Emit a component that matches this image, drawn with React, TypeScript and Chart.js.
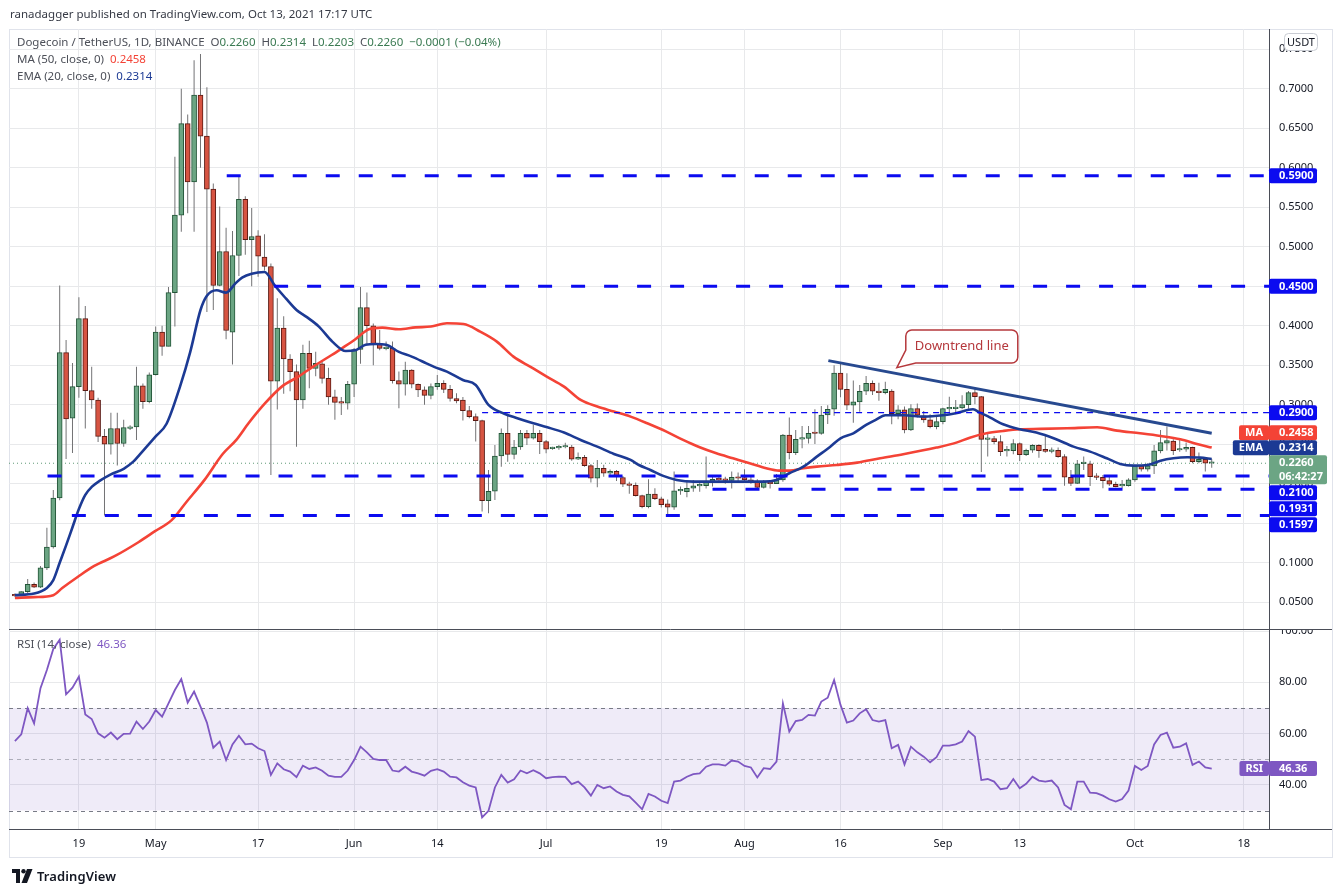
import React, { useEffect, useRef } from "react";
import { Chart, registerables } from "chart.js";

Chart.register(...registerables);

const FONT = '"Noto Sans", "DejaVu Sans", sans-serif';

// Daily DOGE/USDT candles, day 1 = Apr 9 2021 ... day 188 = Oct 13 2021
const opens = [
  0.0600, 0.0590, 0.0634, 0.0727, 0.0690, 0.0935, 0.1200, 0.1820, 0.3660, 0.2830,
  0.3230, 0.4090, 0.3180, 0.3060, 0.2600, 0.2500, 0.2700, 0.2510, 0.2700, 0.2720,
  0.3240, 0.3040, 0.3380, 0.3920, 0.3740, 0.4420, 0.5400, 0.6560, 0.5820, 0.6920,
  0.6400, 0.5730, 0.4510, 0.4940, 0.3920, 0.4890, 0.5600, 0.5090, 0.5140, 0.4870,
  0.4750, 0.3300, 0.3970, 0.3580, 0.3420, 0.3060, 0.3650, 0.3460, 0.3520, 0.3335,
  0.3100, 0.3030, 0.3020, 0.3260, 0.3700, 0.4230, 0.4000, 0.3766, 0.3710, 0.3715,
  0.3306, 0.3260, 0.3440, 0.3260, 0.3188, 0.3120, 0.3230, 0.3270, 0.3196, 0.3080,
  0.3060, 0.2926, 0.2850, 0.2800, 0.1787, 0.1905, 0.2352, 0.2640, 0.2373, 0.2466,
  0.2640, 0.2576, 0.2640, 0.2534, 0.2446, 0.2455, 0.2466, 0.2466, 0.2310, 0.2335,
  0.2230, 0.2070, 0.2196, 0.2133, 0.2158, 0.2080, 0.1994, 0.1980, 0.1850, 0.1710,
  0.1870, 0.1810, 0.1745, 0.1703, 0.1910, 0.1900, 0.1943, 0.1973, 0.1977, 0.2027,
  0.2057, 0.2057, 0.2044, 0.2087, 0.2078, 0.2050, 0.2032, 0.1955, 0.2019, 0.2002,
  0.2049, 0.2618, 0.2394, 0.2566, 0.2575, 0.2642, 0.2639, 0.2871, 0.2943, 0.3400,
  0.3196, 0.2994, 0.3036, 0.3171, 0.3272, 0.3171, 0.3154, 0.3175, 0.2888, 0.2935,
  0.2681, 0.2951, 0.2859, 0.2808, 0.2724, 0.2787, 0.2948, 0.2951, 0.2960, 0.3002,
  0.3154, 0.3103, 0.2563, 0.2572, 0.2534, 0.2416, 0.2420, 0.2508, 0.2369, 0.2424,
  0.2487, 0.2437, 0.2411, 0.2424, 0.2344, 0.2082, 0.2006, 0.2255, 0.2251, 0.2091,
  0.2082, 0.2040, 0.1994, 0.1973, 0.1977, 0.2049, 0.2226, 0.2184, 0.2226, 0.2416,
  0.2513, 0.2542, 0.2428, 0.2437, 0.2462, 0.2281, 0.2310, 0.2260,
];
const highs = [
  0.0612, 0.0640, 0.0796, 0.0750, 0.0958, 0.1444, 0.1920, 0.4510, 0.3820, 0.3530,
  0.4360, 0.4250, 0.3480, 0.3090, 0.2694, 0.2900, 0.2900, 0.2810, 0.2740, 0.3480,
  0.3270, 0.3410, 0.3990, 0.4000, 0.4490, 0.6140, 0.7000, 0.6676, 0.7360, 0.7440,
  0.7020, 0.5800, 0.5510, 0.5240, 0.5200, 0.5900, 0.5640, 0.5490, 0.5210, 0.5160,
  0.4790, 0.4350, 0.4120, 0.3640, 0.3510, 0.3760, 0.3810, 0.3670, 0.3560, 0.3470,
  0.3190, 0.3100, 0.3300, 0.3720, 0.4490, 0.4420, 0.4030, 0.3947, 0.3800, 0.3800,
  0.3420, 0.3546, 0.3450, 0.3270, 0.3230, 0.3270, 0.3378, 0.3310, 0.3250, 0.3146,
  0.3100, 0.2985, 0.2890, 0.2810, 0.2175, 0.2490, 0.2700, 0.2890, 0.2555, 0.2680,
  0.2680, 0.2745, 0.2680, 0.2555, 0.2470, 0.2490, 0.2520, 0.2490, 0.2395, 0.2365,
  0.2250, 0.2300, 0.2240, 0.2180, 0.2175, 0.2100, 0.2027, 0.2015, 0.1860, 0.2057,
  0.1943, 0.1837, 0.1800, 0.2154, 0.1964, 0.2049, 0.2049, 0.2027, 0.2344, 0.2112,
  0.2100, 0.2090, 0.2154, 0.2142, 0.2184, 0.2100, 0.2057, 0.2049, 0.2049, 0.2125,
  0.2630, 0.2840, 0.2680, 0.2730, 0.2730, 0.2943, 0.2985, 0.2994, 0.3500, 0.3517,
  0.3400, 0.3306, 0.3251, 0.3365, 0.3306, 0.3280, 0.3293, 0.3196, 0.2994, 0.2977,
  0.3006, 0.3015, 0.2922, 0.2880, 0.2859, 0.2964, 0.3103, 0.3061, 0.3120, 0.3175,
  0.3217, 0.3112, 0.2648, 0.2605, 0.2614, 0.2479, 0.2563, 0.2521, 0.2445, 0.2500,
  0.2500, 0.2614, 0.2458, 0.2458, 0.2373, 0.2175, 0.2302, 0.2344, 0.2293, 0.2133,
  0.2112, 0.2091, 0.2027, 0.2049, 0.2070, 0.2238, 0.2238, 0.2260, 0.2492, 0.2681,
  0.2724, 0.2563, 0.2555, 0.2521, 0.2470, 0.2395, 0.2335, 0.2314,
];
const lows = [
  0.0570, 0.0580, 0.0615, 0.0680, 0.0680, 0.0910, 0.1180, 0.1790, 0.2315, 0.2390,
  0.3090, 0.2700, 0.2950, 0.2530, 0.1600, 0.2370, 0.2230, 0.2470, 0.2680, 0.2555,
  0.2950, 0.3020, 0.3370, 0.3620, 0.3740, 0.3990, 0.5190, 0.5426, 0.5190, 0.6000,
  0.4176, 0.4200, 0.4500, 0.3830, 0.3510, 0.4630, 0.4900, 0.4500, 0.4620, 0.4700,
  0.2110, 0.2940, 0.3140, 0.3170, 0.2470, 0.2950, 0.3210, 0.3360, 0.3270, 0.3000,
  0.2810, 0.2870, 0.2940, 0.3100, 0.3520, 0.3770, 0.3500, 0.3690, 0.3690, 0.3270,
  0.2956, 0.3116, 0.3210, 0.3100, 0.3000, 0.3070, 0.3190, 0.3150, 0.3040, 0.3020,
  0.2800, 0.2830, 0.2534, 0.1648, 0.1627, 0.1795, 0.2217, 0.2280, 0.2310, 0.2430,
  0.2490, 0.2560, 0.2377, 0.2386, 0.2430, 0.2430, 0.2450, 0.2293, 0.2300, 0.2217,
  0.2015, 0.1956, 0.2090, 0.2110, 0.2036, 0.1960, 0.1875, 0.1840, 0.1690, 0.1690,
  0.1795, 0.1700, 0.1590, 0.1670, 0.1860, 0.1830, 0.1900, 0.1900, 0.1940, 0.1964,
  0.2015, 0.2000, 0.1940, 0.2027, 0.2027, 0.2000, 0.1920, 0.1940, 0.1940, 0.1998,
  0.2027, 0.2310, 0.2365, 0.2450, 0.2510, 0.2504, 0.2620, 0.2757, 0.2860, 0.3095,
  0.2935, 0.2774, 0.2913, 0.3124, 0.3124, 0.3050, 0.3133, 0.2753, 0.2816, 0.2639,
  0.2669, 0.2838, 0.2774, 0.2703, 0.2690, 0.2753, 0.2900, 0.2880, 0.2943, 0.2951,
  0.3006, 0.2150, 0.2344, 0.2500, 0.2352, 0.2344, 0.2373, 0.2289, 0.2352, 0.2394,
  0.2331, 0.2394, 0.2386, 0.2331, 0.1975, 0.1973, 0.1998, 0.2175, 0.1973, 0.2049,
  0.1943, 0.1973, 0.1956, 0.1943, 0.1964, 0.2027, 0.2154, 0.2154, 0.2124, 0.2386,
  0.2420, 0.2365, 0.2407, 0.2407, 0.2260, 0.2260, 0.2154, 0.2203,
];
const closes = [
  0.0580, 0.0634, 0.0727, 0.0690, 0.0935, 0.1200, 0.1820, 0.3660, 0.2820, 0.3230,
  0.4090, 0.3180, 0.3060, 0.2600, 0.2500, 0.2700, 0.2510, 0.2710, 0.2720, 0.3240,
  0.3040, 0.3380, 0.3920, 0.3740, 0.4420, 0.5400, 0.6560, 0.5820, 0.6920, 0.6400,
  0.5730, 0.4510, 0.4940, 0.3940, 0.4890, 0.5600, 0.5090, 0.5130, 0.4880, 0.4750,
  0.3300, 0.3970, 0.3580, 0.3420, 0.3060, 0.3650, 0.3460, 0.3525, 0.3335, 0.3100,
  0.3030, 0.3020, 0.3260, 0.3700, 0.4230, 0.4000, 0.3766, 0.3715, 0.3720, 0.3306,
  0.3260, 0.3440, 0.3260, 0.3188, 0.3120, 0.3230, 0.3270, 0.3196, 0.3080, 0.3050,
  0.2926, 0.2850, 0.2800, 0.1787, 0.1905, 0.2352, 0.2640, 0.2373, 0.2466, 0.2640,
  0.2576, 0.2640, 0.2534, 0.2437, 0.2459, 0.2468, 0.2470, 0.2310, 0.2335, 0.2230,
  0.2070, 0.2196, 0.2133, 0.2158, 0.2090, 0.1994, 0.1980, 0.1850, 0.1710, 0.1870,
  0.1810, 0.1736, 0.1703, 0.1910, 0.1915, 0.1943, 0.1973, 0.1985, 0.2027, 0.2057,
  0.2049, 0.2044, 0.2082, 0.2070, 0.2050, 0.2027, 0.1955, 0.2019, 0.2002, 0.2049,
  0.2618, 0.2394, 0.2563, 0.2580, 0.2639, 0.2636, 0.2871, 0.2943, 0.3400, 0.3196,
  0.2994, 0.3036, 0.3171, 0.3272, 0.3171, 0.3154, 0.3196, 0.2888, 0.2935, 0.2681,
  0.2951, 0.2867, 0.2808, 0.2724, 0.2787, 0.2951, 0.2960, 0.2964, 0.3002, 0.3154,
  0.3103, 0.2563, 0.2572, 0.2534, 0.2407, 0.2428, 0.2508, 0.2369, 0.2424, 0.2487,
  0.2420, 0.2411, 0.2424, 0.2344, 0.2085, 0.2006, 0.2251, 0.2260, 0.2091, 0.2082,
  0.2040, 0.1994, 0.1964, 0.1977, 0.2049, 0.2226, 0.2184, 0.2226, 0.2416, 0.2521,
  0.2546, 0.2420, 0.2437, 0.2462, 0.2281, 0.2310, 0.2261, 0.2260,
];

// RSI(14) per day
const rsiValues = [
  57.1, 59.7, 69.9, 64.0, 77.7, 84.8, 93.0, 96.6, 75.3, 77.9,
  82.2, 67.5, 65.7, 60.1, 58.4, 60.4, 57.8, 59.9, 60.0, 64.7,
  61.8, 64.7, 69.2, 66.6, 71.8, 77.0, 81.3, 72.1, 76.4, 70.5,
  64.3, 54.5, 56.9, 49.7, 55.8, 59.2, 55.8, 56.1, 54.3, 53.2,
  43.9, 48.4, 46.1, 45.2, 43.0, 47.5, 46.2, 46.8, 45.5, 43.6,
  43.1, 43.1, 45.6, 49.7, 54.9, 52.7, 50.1, 49.7, 49.7, 45.6,
  45.2, 47.1, 45.2, 44.5, 43.6, 45.5, 46.1, 45.2, 43.2, 42.9,
  41.0, 39.7, 39.0, 27.3, 29.9, 39.0, 43.9, 40.9, 42.2, 45.6,
  44.5, 45.7, 44.5, 42.6, 43.0, 43.2, 43.1, 40.3, 41.3, 39.0,
  35.8, 40.0, 38.7, 39.4, 37.4, 36.1, 35.5, 33.1, 30.5, 36.5,
  35.5, 33.8, 32.9, 41.3, 41.7, 43.2, 44.2, 44.5, 47.1, 48.0,
  48.0, 47.5, 49.5, 49.1, 47.4, 46.8, 42.9, 46.5, 46.2, 49.1,
  71.8, 60.8, 64.9, 65.3, 67.3, 67.0, 72.5, 74.0, 80.9, 71.2,
  64.3, 65.1, 67.9, 69.5, 65.3, 64.7, 65.3, 54.3, 55.6, 48.0,
  54.9, 52.7, 51.0, 48.8, 50.8, 55.3, 55.3, 55.8, 56.9, 61.0,
  58.8, 41.9, 42.3, 41.3, 38.3, 38.7, 42.3, 38.7, 40.4, 43.2,
  41.7, 41.3, 41.7, 39.0, 32.2, 30.5, 41.3, 41.3, 37.0, 36.8,
  35.8, 34.4, 33.5, 34.5, 37.8, 47.4, 45.8, 47.4, 55.8, 59.5,
  60.4, 54.5, 54.9, 56.2, 47.8, 49.1, 46.8, 46.36,
];

// EMA(20): [day, value]
const emaPoints = [
  [1, 0.059], [4, 0.061], [6, 0.068], [7, 0.078], [8, 0.1], [9, 0.122], [10, 0.145],
  [11, 0.168], [12, 0.186], [13, 0.196], [14.3, 0.204], [16, 0.212], [18, 0.219],
  [19.5, 0.228], [20.5, 0.237], [23, 0.26], [24.7, 0.276], [26.8, 0.323], [28.4, 0.367],
  [30, 0.42], [31, 0.438], [32.5, 0.445], [34, 0.442], [35.5, 0.454], [36.5, 0.461],
  [38, 0.466], [40, 0.468], [41.7, 0.45], [43.3, 0.435], [45, 0.42], [46.5, 0.4116],
  [48.5, 0.399], [50.6, 0.38], [52.7, 0.368], [54.2, 0.369], [55.8, 0.376], [57.4, 0.377],
  [59, 0.376], [61, 0.367], [63, 0.361], [65.3, 0.3525], [66.5, 0.348], [68.5, 0.342],
  [71, 0.3314], [73, 0.325], [75, 0.2998], [77.4, 0.289], [79.5, 0.283], [82, 0.2766],
  [84.2, 0.2715], [86.8, 0.2648], [89.4, 0.2555], [92, 0.247], [94.6, 0.2378],
  [97.2, 0.2302], [98.5, 0.2238], [100.3, 0.2175], [102.3, 0.21], [104.4, 0.2049],
  [107, 0.2027], [110.6, 0.2027], [114.8, 0.2027], [118, 0.2027], [120, 0.2049],
  [122, 0.2133], [124.2, 0.2217], [126.3, 0.2344], [128.4, 0.247], [130, 0.2576],
  [132, 0.2639], [134, 0.2745], [135.5, 0.281], [137, 0.2867], [140, 0.2867], [143, 0.285],
  [146, 0.2867], [148, 0.2892], [150.7, 0.2943], [151.8, 0.29], [153.4, 0.2838],
  [155.4, 0.2753], [158, 0.269], [160.6, 0.2648], [163.5, 0.257], [166.4, 0.247],
  [169, 0.2407], [171.6, 0.2323], [173.7, 0.2251], [175.8, 0.223], [178, 0.2238],
  [180, 0.2293], [182, 0.2323], [184.2, 0.2335], [186.2, 0.2331], [188, 0.2314],
];

// MA(50): [day, value]
const maPoints = [
  [1, 0.0556], [4, 0.0565], [7, 0.059], [8.4, 0.068], [10.8, 0.082], [13.4, 0.096],
  [16.5, 0.108], [20.3, 0.126], [22.9, 0.14], [25.5, 0.154], [27.8, 0.177], [30.6, 0.2046],
  [33.5, 0.238], [35.6, 0.2556], [37.5, 0.2766], [40.1, 0.302], [42.7, 0.323], [45.3, 0.3357],
  [47.9, 0.35], [50.5, 0.363], [52.1, 0.3715], [54.2, 0.383], [56.3, 0.3956], [58.4, 0.3977],
  [61, 0.3956], [63.6, 0.398], [66, 0.399], [68.5, 0.4032], [71.1, 0.4023], [73.7, 0.3926],
  [76.3, 0.38], [78.9, 0.361], [81.5, 0.3483], [84.1, 0.3357], [86.8, 0.323], [89.4, 0.3061],
  [92, 0.2977], [94.6, 0.2914], [97.2, 0.285], [99.8, 0.2766], [102.8, 0.266], [105.4, 0.2555],
  [108, 0.2462], [110.6, 0.2386], [113.2, 0.2323], [115.8, 0.226], [118.4, 0.2196],
  [120.4, 0.2167], [122.1, 0.2167], [124.2, 0.2196], [126.3, 0.2217], [129.4, 0.2238],
  [132.6, 0.2268], [136.2, 0.2323], [139.8, 0.2373], [145, 0.2458], [148.1, 0.2521],
  [150.2, 0.2584], [152.8, 0.2639], [155.4, 0.2669], [158, 0.269], [161.2, 0.2695],
  [165.4, 0.2703], [170.1, 0.2715], [173.2, 0.2673], [176.8, 0.2639], [180, 0.2605],
  [183.1, 0.2563], [185.7, 0.2504], [188, 0.2458],
];

const xTickDays = [11, 23, 39, 54, 67, 84, 102, 115, 130, 146, 158, 176, 193];
const xTickLabels = ["19", "May", "17", "Jun", "14", "Jul", "19", "Aug", "16", "Sep", "13", "Oct", "18"];
const priceTicks = [0.05, 0.1, 0.15, 0.2, 0.25, 0.3, 0.35, 0.4, 0.45, 0.5, 0.55, 0.6, 0.65, 0.7, 0.75];
const rsiTicks = [40, 60, 80, 100];
const rsiBand = [30, 70];
const rsiMid = 50;

// drawn horizontal levels and where they begin (day)
const levelValues = [0.59, 0.45, 0.21, 0.1931, 0.1597];
const levelStartDays = [34.1, 41.5, 6.1, 110, 9.9];
const resistanceValue = 0.29;
const resistanceStartDay = 74;
const trendDays = [128.1, 188];
const trendValues = [0.3559, 0.2639];
const calloutText = "Downtrend line";
const calloutTip = [138.8, 0.347];
const calloutBox = [140.2, 157.7, 0.3947, 0.3529];
const countdownText = "06:42:27";

const X_MIN = 0.08;
const X_MAX = 196.95;
const PRICE_MIN = 0.0149;
const PRICE_MAX = 0.7757;
const RSI_MIN = 22.8;
const RSI_MAX = 100.4;

const UP_FILL = "#6ba583";
const UP_LINE = "#225437";
const DOWN_FILL = "#d75442";
const DOWN_LINE = "#5b1a13";
const WICK = "#737375";
const MA_COLOR = "#f44336";
const EMA_COLOR = "#1c3a94";
const LEVEL_COLOR = "#0b0bf0";
const TREND_COLOR = "#27498f";
const RSI_COLOR = "#7e57c2";
const LAST_COLOR = "#6ca584";
const CALLOUT_COLOR = "#b5383c";
const GRID = "#e8e9eb";
const AXIS_LINE = "#4a4d57";
const TEXT = "#131722";
const LEGEND_TEXT = "#4c4f58";
const VALUE_GREEN = "#3a7a52";

const lastIdx = closes.length - 1;
const maLast = maPoints[maPoints.length - 1][1];
const emaLast = emaPoints[emaPoints.length - 1][1];
const rsiLast = rsiValues[rsiValues.length - 1];

function rectPath(ctx: CanvasRenderingContext2D, x: number, y: number, w: number, h: number, r: number) {
  ctx.beginPath();
  ctx.moveTo(x + r, y);
  ctx.arcTo(x + w, y, x + w, y + h, r);
  ctx.arcTo(x + w, y + h, x, y + h, r);
  ctx.arcTo(x, y + h, x, y, r);
  ctx.arcTo(x, y, x + w, y, r);
  ctx.closePath();
}

function drawAxisBadge(ctx: CanvasRenderingContext2D, axL: number, top: number, h: number, w: number, bg: string, lines: string[], side?: string) {
  ctx.save();
  ctx.fillStyle = bg;
  rectPath(ctx, axL, top, w, h, 2);
  ctx.fill();
  ctx.fillStyle = "#ffffff";
  ctx.font = `bold 11px ${FONT}`;
  ctx.textAlign = "left";
  ctx.textBaseline = "middle";
  lines.forEach((t, i) => ctx.fillText(t, axL + 10, top + 7.8 + i * 14));
  if (side) {
    const sw = ctx.measureText(side).width + 12;
    ctx.fillStyle = bg;
    rectPath(ctx, axL - sw, top, sw, h, 2);
    ctx.fill();
    ctx.fillStyle = "#ffffff";
    ctx.textAlign = "center";
    ctx.fillText(side, axL - sw / 2, top + h / 2 + 0.5);
  }
  ctx.restore();
}

function drawAxisLabels(chart: any, values: number[], digits: number) {
  const { ctx } = chart;
  const ys = chart.scales.y;
  const axL = chart.chartArea.right;
  ctx.save();
  ctx.fillStyle = TEXT;
  ctx.font = `11px ${FONT}`;
  ctx.textAlign = "left";
  ctx.textBaseline = "middle";
  values.forEach((v) => ctx.fillText(v.toFixed(digits), axL + 10, ys.getPixelForValue(v)));
  ctx.restore();
}

const priceOverlay = {
  id: "priceOverlay",
  afterDatasetsDraw(chart: any) {
    const { ctx } = chart;
    const xs = chart.scales.x;
    const ys = chart.scales.y;
    const left = xs.getPixelForValue(calloutBox[0]);
    const right = xs.getPixelForValue(calloutBox[1]);
    const top = ys.getPixelForValue(calloutBox[2]);
    const bottom = ys.getPixelForValue(calloutBox[3]);
    const tipX = xs.getPixelForValue(calloutTip[0]);
    const tipY = ys.getPixelForValue(calloutTip[1]);
    const r = 6;
    ctx.save();
    ctx.beginPath();
    ctx.moveTo(left + r, top);
    ctx.lineTo(right - r, top);
    ctx.arcTo(right, top, right, top + r, r);
    ctx.lineTo(right, bottom - r);
    ctx.arcTo(right, bottom, right - r, bottom, r);
    ctx.lineTo(left + 10, bottom);
    ctx.lineTo(tipX, tipY);
    ctx.lineTo(left, bottom - 13);
    ctx.lineTo(left, top + r);
    ctx.arcTo(left, top, left + r, top, r);
    ctx.closePath();
    ctx.fillStyle = "#ffffff";
    ctx.fill();
    ctx.lineWidth = 1.5;
    ctx.strokeStyle = CALLOUT_COLOR;
    ctx.stroke();
    ctx.fillStyle = CALLOUT_COLOR;
    ctx.font = `13px ${FONT}`;
    ctx.textAlign = "center";
    ctx.textBaseline = "middle";
    ctx.fillText(calloutText, (left + right) / 2, (top + bottom) / 2);
    ctx.restore();
  },
  afterDraw(chart: any) {
    const { ctx } = chart;
    const ys = chart.scales.y;
    const axL = chart.chartArea.right;
    drawAxisLabels(chart, priceTicks, 4);
    const H = 15;
    const last = closes[lastIdx];
    const lastY = ys.getPixelForValue(last);
    const anchorTop = lastY - 8;
    const anchorH = 29;
    const items: any[] = [
      ...levelValues.map((v) => ({ value: v, bg: LEVEL_COLOR })),
      { value: resistanceValue, bg: LEVEL_COLOR },
      { value: maLast, bg: MA_COLOR, side: "MA" },
      { value: emaLast, bg: EMA_COLOR, side: "EMA" },
    ];
    const above = items.filter((b) => b.value > last).sort((a, b) => a.value - b.value);
    const below = items.filter((b) => b.value <= last).sort((a, b) => b.value - a.value);
    let limit = anchorTop;
    above.forEach((b) => {
      const c = ys.getPixelForValue(b.value);
      const bottom = Math.min(c + H / 2, limit);
      b.top = bottom - H;
      limit = b.top;
    });
    limit = anchorTop + anchorH;
    below.forEach((b) => {
      const c = ys.getPixelForValue(b.value);
      b.top = Math.max(c - H / 2, limit + 1);
      limit = b.top + H;
    });
    items.forEach((b) => drawAxisBadge(ctx, axL, b.top, H, 48, b.bg, [b.value.toFixed(4)], b.side));
    drawAxisBadge(ctx, axL, anchorTop, anchorH, 58, LAST_COLOR, [last.toFixed(4), countdownText]);

    // currency badge
    ctx.save();
    ctx.fillStyle = "#ffffff";
    ctx.strokeStyle = "#c9ccd3";
    ctx.lineWidth = 1;
    rectPath(ctx, axL + 15.5, chart.chartArea.top + 4.5, 33, 17, 4);
    ctx.fill();
    ctx.stroke();
    ctx.fillStyle = TEXT;
    ctx.font = `11px ${FONT}`;
    ctx.textAlign = "center";
    ctx.textBaseline = "middle";
    ctx.fillText("USDT", axL + 32, chart.chartArea.top + 13.5);
    ctx.restore();
  },
};

const rsiOverlay = {
  id: "rsiOverlay",
  beforeDatasetsDraw(chart: any) {
    const { ctx, chartArea: a } = chart;
    const y = chart.scales.y;
    const yHi = y.getPixelForValue(rsiBand[1]);
    const yLo = y.getPixelForValue(rsiBand[0]);
    const yMid = y.getPixelForValue(rsiMid);
    ctx.save();
    ctx.fillStyle = "rgba(126,87,194,0.12)";
    ctx.fillRect(a.left, yHi, a.right - a.left, yLo - yHi);
    ctx.lineWidth = 1;
    ctx.setLineDash([4, 4]);
    const hline = (yy: number, color: string) => {
      ctx.strokeStyle = color;
      ctx.beginPath();
      ctx.moveTo(a.left, Math.round(yy) + 0.5);
      ctx.lineTo(a.right, Math.round(yy) + 0.5);
      ctx.stroke();
    };
    hline(yHi, "#787b86");
    hline(yLo, "#787b86");
    hline(yMid, "rgba(120,123,134,0.55)");
    ctx.restore();
  },
  afterDraw(chart: any) {
    const { ctx, chartArea: a } = chart;
    const y = chart.scales.y;
    drawAxisLabels(chart, rsiTicks, 2);
    ctx.save();
    ctx.strokeStyle = AXIS_LINE;
    ctx.lineWidth = 1;
    ctx.beginPath();
    ctx.moveTo(9, a.top - 0.5);
    ctx.lineTo(1332, a.top - 0.5);
    ctx.moveTo(9, a.bottom + 0.5);
    ctx.lineTo(1332, a.bottom + 0.5);
    ctx.stroke();
    ctx.restore();
    const yy = y.getPixelForValue(rsiLast);
    drawAxisBadge(ctx, a.right, yy - 7.5, 15, 48, RSI_COLOR, [rsiLast.toFixed(2)], "RSI");
  },
};

const days = opens.map((_, i) => i + 1);
const isUp = (i: number) => closes[i] >= opens[i];

function xScaleBase(showLabels: boolean) {
  return {
    type: "linear",
    min: X_MIN,
    max: X_MAX,
    offset: false,
    afterBuildTicks: (s: any) => {
      s.ticks = xTickDays.map((v) => ({ value: v }));
    },
    ticks: {
      display: showLabels,
      autoSkip: false,
      maxRotation: 0,
      padding: 8,
      color: TEXT,
      font: { family: FONT, size: 11 },
      callback: (_v: any, i: number) => xTickLabels[i],
    },
    grid: { color: GRID, drawTicks: false, offset: false },
    border: { display: false },
    afterFit: (s: any) => {
      s.height = showLabels ? 63 : 0;
    },
  };
}

function yScaleBase(min: number, max: number, values: number[]) {
  return {
    type: "linear",
    position: "right",
    min,
    max,
    afterBuildTicks: (s: any) => {
      s.ticks = values.map((v) => ({ value: v }));
    },
    ticks: { display: false },
    grid: { color: GRID, drawTicks: false },
    border: { display: true, color: AXIS_LINE },
    afterFit: (s: any) => {
      s.width = 72;
    },
  };
}

function priceConfig(): any {
  const hLine = (from: number, value: number, width: number, dash: number[]) => ({
    type: "line",
    data: [
      { x: from, y: value },
      { x: X_MAX, y: value },
    ],
    borderColor: LEVEL_COLOR,
    borderWidth: width,
    borderDash: dash,
    pointRadius: 0,
    order: 0,
  });
  return {
    type: "bar",
    data: {
      datasets: [
        {
          type: "line",
          data: trendDays.map((d, i) => ({ x: d, y: trendValues[i] })),
          borderColor: TREND_COLOR,
          borderWidth: 3,
          pointRadius: 0,
          order: 0,
        },
        ...levelValues.map((v, i) => hLine(levelStartDays[i], v, 3, [14, 19])),
        hLine(resistanceStartDay, resistanceValue, 1.3, [6, 5]),
        {
          type: "line",
          data: emaPoints.map(([x, y]) => ({ x, y })),
          borderColor: EMA_COLOR,
          borderWidth: 2.6,
          pointRadius: 0,
          cubicInterpolationMode: "monotone",
          order: 0,
        },
        {
          type: "line",
          data: maPoints.map(([x, y]) => ({ x, y })),
          borderColor: MA_COLOR,
          borderWidth: 2.6,
          pointRadius: 0,
          cubicInterpolationMode: "monotone",
          order: 0,
        },
        {
          type: "bar",
          data: days.map((d, i) => ({ x: d, y: [opens[i], closes[i]] })),
          backgroundColor: days.map((_, i) => (isUp(i) ? UP_FILL : DOWN_FILL)),
          borderColor: days.map((_, i) => (isUp(i) ? UP_LINE : DOWN_LINE)),
          borderWidth: 1,
          borderSkipped: false,
          barThickness: 5,
          minBarLength: 1.5,
          grouped: false,
          order: 1,
        },
        {
          type: "bar",
          data: days.map((d, i) => ({ x: d, y: [lows[i], highs[i]] })),
          backgroundColor: WICK,
          barThickness: 1,
          inflateAmount: 0,
          grouped: false,
          order: 2,
        },
        {
          type: "line",
          data: [
            { x: X_MIN, y: closes[lastIdx] },
            { x: X_MAX, y: closes[lastIdx] },
          ],
          borderColor: "#5f9a77",
          borderWidth: 1,
          borderDash: [1, 3],
          pointRadius: 0,
          order: 3,
        },
      ],
    },
    options: {
      responsive: false,
      animation: false,
      events: [],
      layout: { padding: { left: 9, top: 29, right: 0, bottom: 0 } },
      plugins: { legend: { display: false }, tooltip: { enabled: false } },
      scales: {
        x: xScaleBase(false),
        y: yScaleBase(PRICE_MIN, PRICE_MAX, priceTicks),
      },
    },
    plugins: [priceOverlay],
  };
}

function rsiConfig(): any {
  return {
    type: "line",
    data: {
      datasets: [
        {
          data: rsiValues.map((v, i) => ({ x: days[i], y: v })),
          borderColor: RSI_COLOR,
          borderWidth: 1.8,
          pointRadius: 0,
          tension: 0,
        },
      ],
    },
    options: {
      responsive: false,
      animation: false,
      events: [],
      layout: { padding: { left: 9, top: 1, right: 0, bottom: 0 } },
      plugins: { legend: { display: false }, tooltip: { enabled: false } },
      scales: {
        x: xScaleBase(true),
        y: yScaleBase(RSI_MIN, RSI_MAX, rsiTicks),
      },
    },
    plugins: [rsiOverlay],
  };
}

export default function App() {
  const priceRef = useRef<HTMLCanvasElement | null>(null);
  const rsiRef = useRef<HTMLCanvasElement | null>(null);

  useEffect(() => {
    const c1 = new Chart(priceRef.current as HTMLCanvasElement, priceConfig());
    const c2 = new Chart(rsiRef.current as HTMLCanvasElement, rsiConfig());
    return () => {
      c1.destroy();
      c2.destroy();
    };
  }, []);

  const change = closes[lastIdx] - closes[lastIdx - 1];
  const pct = (change / closes[lastIdx - 1]) * 100;
  const sign = (v: number) => (v < 0 ? "\u2212" : "+");
  const changeText = `${sign(change)}${Math.abs(change).toFixed(4)} (${sign(pct)}${Math.abs(pct).toFixed(2)}%)`;

  const legendRow: React.CSSProperties = { height: 17, lineHeight: "17px", whiteSpace: "nowrap" };
  const green = { color: VALUE_GREEN };

  return (
    <div
      style={{
        position: "absolute",
        left: 0,
        top: 0,
        width: 1341,
        height: 892,
        background: "#ffffff",
        overflow: "hidden",
        fontFamily: FONT,
      }}
    >
      <div
        style={{
          position: "absolute",
          left: 9,
          top: 29,
          width: 1324,
          height: 829,
          border: "1px solid #e0e3eb",
          boxSizing: "border-box",
        }}
      />
      <canvas ref={priceRef} width={1341} height={630} style={{ position: "absolute", left: 0, top: 0 }} />
      <canvas ref={rsiRef} width={1341} height={263} style={{ position: "absolute", left: 0, top: 629 }} />

      <div style={{ position: "absolute", left: 10, top: 6, fontSize: 11.5, color: "#363a45", whiteSpace: "nowrap" }}>
        ranadagger published on TradingView.com, Oct 13, 2021 17:17 UTC
      </div>

      <div style={{ position: "absolute", left: 17, top: 33, fontSize: 11.5, color: LEGEND_TEXT }}>
        <div style={legendRow}>
          Dogecoin / TetherUS, 1D, BINANCE&nbsp;&nbsp;O<span style={green}>{opens[lastIdx].toFixed(4)}</span>
          &nbsp;&nbsp;H<span style={green}>{highs[lastIdx].toFixed(4)}</span>
          &nbsp;&nbsp;L<span style={green}>{lows[lastIdx].toFixed(4)}</span>
          &nbsp;&nbsp;C<span style={green}>{closes[lastIdx].toFixed(4)}</span>
          &nbsp;&nbsp;<span style={green}>{changeText}</span>
        </div>
        <div style={legendRow}>
          MA (50, close, 0)&nbsp;&nbsp;<span style={{ color: MA_COLOR }}>{maLast.toFixed(4)}</span>
        </div>
        <div style={legendRow}>
          EMA (20, close, 0)&nbsp;&nbsp;<span style={{ color: EMA_COLOR }}>{emaLast.toFixed(4)}</span>
        </div>
      </div>

      <div style={{ position: "absolute", left: 17, top: 635, fontSize: 11.5, color: LEGEND_TEXT, ...legendRow }}>
        RSI (14, close)&nbsp;&nbsp;<span style={{ color: RSI_COLOR }}>{rsiLast.toFixed(2)}</span>
      </div>

      <div style={{ position: "absolute", left: 12, top: 867, display: "flex", alignItems: "center", gap: 4 }}>
        <svg width="21" height="14" viewBox="0 0 21 14">
          <path d="M0 0 H8 V14 H4 V4 H0 Z" fill={TEXT} />
          <circle cx="11.5" cy="2.2" r="2.2" fill={TEXT} />
          <path d="M15 0 H20.5 L15 14 H9.5 Z" fill={TEXT} />
        </svg>
        <span style={{ fontSize: 13, fontWeight: 600, color: TEXT, letterSpacing: 0.1 }}>TradingView</span>
      </div>
    </div>
  );
}
